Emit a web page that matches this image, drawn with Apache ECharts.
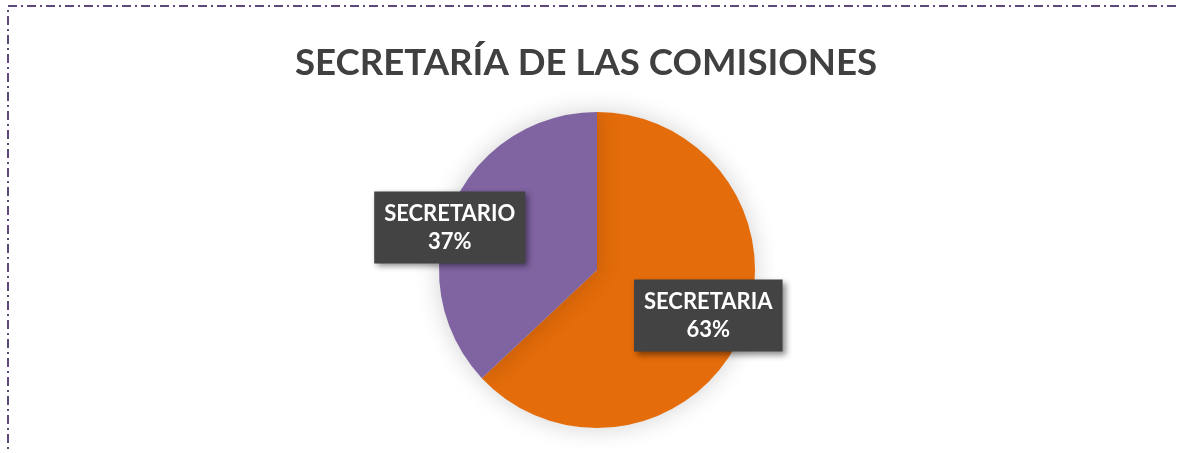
<!DOCTYPE html>
<html lang="es">

<head>
    <meta charset="UTF-8">
    <script src="https://cdn.jsdelivr.net/npm/echarts@6/dist/echarts.min.js"></script>
    <title>Secretaría de las comisiones</title>
    <style>
        body {
            margin: 0;
            background: #fff;
        }

        #main {
            width: 1180px;
            height: 453px;
        }
    </style>
</head>

<body>
    <div id="main"></div>
    <script>
        var categories = ['SECRETARIA', 'SECRETARIO'];
        var values = [63, 37];
        var colors = ['#E46C0A', '#8064A2'];

        var chart = echarts.init(document.getElementById('main'));

        var pieData = [];
        for (var i = 0; i < categories.length; i++) {
            pieData.push({
                name: categories[i],
                value: values[i],
                itemStyle: { color: colors[i] }
            });
        }
        // label offsets so boxes sit where the original put them
        pieData[0].label = { offset: [36, 13] };
        pieData[1].label = { offset: [-72, -10] };

        var option = {
            backgroundColor: '#ffffff',
            animation: false,
            title: {
                text: 'SECRETARÍA DE LAS COMISIONES',
                left: 290,
                top: 40,
                textStyle: {
                    fontFamily: 'Lato',
                    fontWeight: 'bold',
                    fontSize: 36.6,
                    color: '#404040'
                }
            },
            graphic: [{
                type: 'rect',
                shape: { x: 8, y: 6, width: 1300, height: 600 },
                style: {
                    fill: 'none',
                    stroke: '#5F497A',
                    lineWidth: 2,
                    lineDash: [9, 4, 2, 4]
                },
                silent: true
            }],
            series: [{
                type: 'pie',
                center: [597, 270],
                radius: 158,
                startAngle: 90,
                clockwise: true,
                percentPrecision: 0,
                itemStyle: {
                    shadowBlur: 25,
                    shadowColor: 'rgba(0, 0, 0, 0.18)'
                },
                label: {
                    show: true,
                    position: 'inside',
                    formatter: '{b}\n{d}%',
                    fontFamily: 'Lato',
                    fontWeight: 'bold',
                    fontSize: 22,
                    lineHeight: 28,
                    color: '#ffffff',
                    backgroundColor: '#434343',
                    padding: [8, 10],
                    shadowBlur: 6,
                    shadowColor: 'rgba(0, 0, 0, 0.45)',
                    shadowOffsetX: 3,
                    shadowOffsetY: 3
                },
                labelLine: { show: false },
                emphasis: { disabled: true },
                data: pieData
            }]
        };

        chart.setOption(option);
    </script>
</body>

</html>
